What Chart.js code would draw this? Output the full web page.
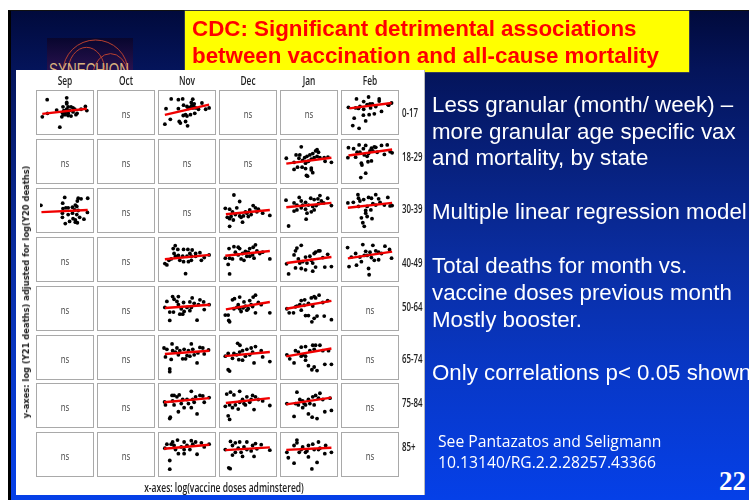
<!DOCTYPE html>
<html><head><meta charset="utf-8">
<script src="https://cdn.jsdelivr.net/npm/chart.js@4"></script>
<style>
html,body{margin:0;padding:0;width:749px;height:500px;overflow:hidden;background:#fff}
.abs{position:absolute;white-space:nowrap}
#slide{position:absolute;left:8px;top:10px;width:741px;height:490px;box-sizing:border-box;border-left:3px solid #000;border-top:1px solid #111;
background:linear-gradient(180deg,#010a3c 0%,#04145a 12%,#0a2da0 50%,#0838c8 75%,#0540e8 100%)}
#title{left:185px;top:11px;width:504px;height:61px;background:#ffff00;box-shadow:0 0 0 .5px #665;color:#f00;font:bold 22.35px/27px "Liberation Sans",Arial,sans-serif;padding:0;box-sizing:border-box;filter:blur(.25px)}
#title div{position:absolute;left:7px}
.txt{color:#fff;font:22.3px/24px "Liberation Sans",Arial,sans-serif;left:432px;filter:blur(.3px)}
.see{color:#fff;font:15.7px/20px "Open Sans","Noto Sans",sans-serif;left:438px;filter:blur(.2px)}
#white{left:16px;top:70px;width:408px;height:425px;background:#fff;box-shadow:1px 0 0 #bbb}
.panel{position:absolute;width:58px;height:45px;filter:blur(.35px)}
.panel canvas{position:absolute;left:0;top:0}
.panel .bd{position:absolute;inset:0;box-sizing:border-box;border:1.4px solid #a9a9a9}
.ns{position:absolute;left:0;right:0;top:0;bottom:0;text-align:center;font:11px/47px "Open Sans",sans-serif;color:#444;transform:scaleX(.72)}
.lab{font:600 11.6px/14px "Open Sans",sans-serif;color:#222;filter:blur(.3px)}
</style></head><body>
<div id="slide"></div>
<svg class="abs" style="left:47px;top:38px" width="86" height="34" viewBox="0 0 86 34">
<defs><linearGradient id="lg" x1="0" y1="0" x2="0" y2="1"><stop offset="0" stop-color="#08062e"/><stop offset="1" stop-color="#2a1250"/></linearGradient></defs>
<rect width="86" height="34" fill="url(#lg)"/>
<g fill="none" stroke="#b8402f" stroke-width="1"><path d="M16 34 A32.5 32 0 0 1 81 34"/><path d="M21 34 A18 24 0 0 1 58 34"/><path d="M46 34 A18 24 0 0 1 81 34"/></g>
<text x="2" y="38" font-family="Liberation Sans" font-size="19" textLength="80" lengthAdjust="spacingAndGlyphs" fill="#d9b27f">SYNECHION</text>
</svg>
<div class="abs" id="title"><div style="top:4px">CDC: Significant detrimental associations</div><div style="top:31px">between vaccination and all-cause mortality</div></div>
<div class="abs txt" style="top:93px">Less granular (month/ week) –</div>
<div class="abs txt" style="top:120px">more granular age specific vax</div>
<div class="abs txt" style="top:146px">and mortality, by state</div>
<div class="abs txt" style="top:200px">Multiple linear regression model</div>
<div class="abs txt" style="top:254px">Total deaths for month vs.</div>
<div class="abs txt" style="top:281px">vaccine doses previous month</div>
<div class="abs txt" style="top:308px">Mostly booster.</div>
<div class="abs txt" style="top:361px">Only correlations p&lt; 0.05 shown</div>
<div class="abs see" style="top:431px">See Pantazatos and Seligmann</div>
<div class="abs see" style="top:452px">10.13140/RG.2.2.28257.43366</div>
<div class="abs" style="left:719px;top:466px;color:#fff;font:bold 27px/30px 'Liberation Serif',serif">22</div>
<div class="abs" id="white"></div>
<div class="abs" style="left:26px;top:292px;transform:translate(-50%,-50%) rotate(-90deg);font:bold 8.35px/10px 'DejaVu Sans',sans-serif;color:#222;filter:blur(.25px)">y-axes: log (Y21 deaths) adjusted for log(Y20 deaths)</div>
<div class="abs lab" style="left:224px;top:481px;transform:translateX(-50%) scaleX(.71);font-size:12px">x-axes: log(vaccine doses adminstered)</div>
<div id="grid"></div>
<script>
const months = ["Sep","Oct","Nov","Dec","Jan","Feb"];
const ages = ["0-17","18-29","30-39","40-49","50-64","65-74","75-84","85+"];
const xRange = [0,174], yRange = [0,136];

const sep_0_17 = [[8,52],[25,115],[93,122],[93,105],[93,100],[80,89],[98,89],[108,89],[115,85],[58,77],[26,65],[69,14],[76,52],[81,60],[88,60],[98,57],[108,55],[115,70],[125,60],[129,65],[158,90],[163,75],[143,80],[83,75],[88,70],[103,75],[98,65],[78,67],[121,80],[93,80]];
const nov_0_17 = [[32,118],[57,115],[72,118],[107,117],[14,82],[10,25],[29,43],[60,35],[64,29],[82,35],[89,19],[57,82],[75,95],[87,90],[102,105],[112,100],[107,85],[117,85],[139,103],[152,80],[164,85],[74,57],[82,60],[87,55],[99,60],[114,65],[127,80],[97,87],[92,83],[104,95],[110,92]];
const feb_0_17 = [[12,87],[40,118],[82,125],[65,108],[119,118],[119,110],[162,103],[32,47],[27,20],[49,10],[72,37],[64,58],[84,60],[102,63],[127,72],[37,85],[52,90],[65,80],[77,97],[87,100],[95,100],[107,90],[149,97],[152,95],[89,85],[47,83]];
const jan_18_29 = [[8,80],[60,122],[42,92],[55,92],[35,65],[35,39],[47,47],[63,47],[78,17],[82,14],[75,42],[95,44],[100,27],[95,37],[52,80],[65,72],[72,82],[80,87],[90,92],[100,97],[110,107],[115,112],[120,102],[125,82],[140,82],[143,69],[153,84],[165,65],[105,82],[95,77],[85,69],[75,62],[115,87]];
const feb_18_29 = [[12,119],[10,82],[30,115],[49,129],[72,127],[64,115],[92,117],[102,122],[107,120],[127,127],[147,129],[157,104],[164,100],[37,84],[52,102],[67,92],[77,87],[57,62],[59,55],[80,67],[92,70],[72,25],[55,9],[87,107],[97,107],[112,102],[137,94],[42,102],[82,97]];
const sep_30_39 = [[3,87],[86,116],[79,95],[133,113],[143,111],[166,113],[130,103],[90,78],[98,78],[113,80],[123,88],[128,83],[78,43],[78,58],[88,20],[103,28],[123,25],[130,23],[115,38],[138,43],[153,36],[98,53],[113,58],[128,53],[165,61],[133,68],[121,70],[80,75],[123,33]];
const dec_30_39 = [[38,125],[58,101],[23,10],[8,76],[23,73],[48,78],[15,43],[23,38],[36,33],[68,25],[58,48],[71,48],[83,58],[93,70],[105,86],[113,78],[123,73],[138,58],[163,50],[98,53],[118,63],[78,63],[43,53],[33,63],[28,46],[88,46],[63,43]];
const jan_30_39 = [[7,106],[16,11],[53,116],[60,103],[35,96],[45,88],[65,88],[75,98],[93,113],[105,108],[118,111],[125,123],[152,113],[165,86],[35,66],[45,70],[60,78],[75,73],[80,58],[77,36],[95,63],[105,70],[112,86],[120,93],[138,96],[130,103],[100,83],[85,88]];
const feb_30_39 = [[10,96],[45,126],[47,113],[52,103],[82,116],[92,113],[107,126],[117,111],[149,116],[65,108],[29,98],[47,83],[72,68],[90,70],[72,58],[57,41],[77,46],[94,38],[62,23],[67,10],[157,85],[164,86],[137,88],[107,88],[97,93],[122,98],[77,83]];
const nov_40_49 = [[46,119],[39,108],[10,53],[17,48],[82,16],[42,90],[55,105],[75,105],[90,105],[105,103],[117,90],[132,93],[164,85],[24,65],[32,70],[47,80],[57,83],[75,60],[92,60],[102,65],[102,80],[117,80],[137,65],[147,75],[62,65],[87,80],[97,90],[72,80]];
const dec_40_49 = [[21,108],[38,115],[53,113],[58,108],[113,122],[105,113],[93,108],[78,98],[88,95],[8,73],[23,73],[33,70],[18,50],[23,15],[53,85],[63,70],[83,80],[103,85],[108,73],[138,95],[163,70],[73,65],[93,80],[118,100],[128,90],[43,95],[68,90]];
const jan_40_49 = [[60,120],[45,110],[40,100],[35,85],[9,52],[16,15],[40,37],[60,35],[75,30],[100,25],[110,40],[142,40],[165,42],[50,70],[65,60],[80,55],[95,65],[105,90],[120,100],[110,95],[125,100],[135,75],[152,87],[90,80],[75,77],[55,55],[100,55]];
const feb_40_49 = [[9,112],[62,123],[97,120],[139,117],[155,105],[72,98],[37,90],[52,77],[57,60],[14,42],[40,47],[82,35],[84,12],[77,83],[92,75],[107,100],[117,95],[102,65],[117,67],[162,73],[127,90],[67,83],[22,77],[87,95]];
const nov_50_64 = [[17,94],[37,112],[57,112],[42,102],[52,94],[105,107],[132,100],[145,92],[10,72],[27,55],[40,55],[27,24],[62,47],[77,57],[97,60],[122,25],[147,64],[164,82],[57,82],[75,90],[97,92],[112,87],[127,82],[67,67],[87,72],[102,72],[72,47]];
const dec_50_64 = [[8,44],[18,44],[20,24],[23,19],[58,110],[40,104],[33,100],[113,117],[105,110],[93,97],[73,92],[133,82],[163,52],[113,52],[88,67],[63,57],[53,82],[38,67],[78,77],[58,67],[98,82],[123,90],[70,70],[83,62],[48,72],[103,75]];
const jan_50_64 = [[10,67],[18,52],[33,52],[45,77],[60,97],[72,100],[95,107],[105,112],[122,117],[152,97],[165,27],[97,19],[140,40],[115,40],[105,32],[85,42],[75,42],[60,62],[70,80],[85,87],[100,77],[110,107],[135,90],[40,74],[55,82]];
const nov_65_74 = [[7,103],[17,98],[35,118],[102,118],[12,70],[32,61],[27,26],[27,16],[122,48],[132,105],[142,103],[162,96],[147,81],[37,93],[52,103],[62,93],[77,98],[92,93],[107,98],[57,78],[72,63],[82,63],[97,73],[112,78],[47,88],[87,75],[125,85]];
const dec_65_74 = [[51,120],[59,113],[18,23],[23,18],[8,73],[18,83],[38,83],[33,65],[55,60],[68,58],[108,48],[138,70],[163,53],[113,108],[98,103],[83,98],[68,93],[48,78],[78,73],[93,78],[133,93],[103,88],[58,88]];
const jan_65_74 = [[10,78],[35,48],[40,93],[60,106],[75,108],[100,113],[110,113],[125,113],[142,43],[165,43],[97,23],[115,20],[85,38],[105,33],[75,58],[75,73],[60,73],[50,88],[90,93],[105,98],[135,93],[155,93],[20,63],[65,78]];
const nov_75_84 = [[9,81],[12,70],[35,105],[42,105],[60,107],[102,120],[132,105],[142,103],[164,97],[27,20],[29,25],[57,45],[77,60],[102,60],[122,37],[147,80],[42,70],[67,75],[87,90],[107,90],[117,100],[37,85],[72,90],[52,100],[92,75],[112,80]];
const dec_75_84 = [[13,110],[26,117],[38,107],[58,120],[8,65],[23,70],[18,30],[23,17],[53,55],[108,53],[163,68],[113,100],[103,105],[83,100],[68,90],[43,70],[33,60],[78,70],[93,80],[123,90],[138,85],[58,80],[73,75],[98,90]];
const jan_75_84 = [[45,117],[10,75],[35,28],[55,90],[65,85],[85,37],[98,25],[115,20],[142,45],[165,50],[125,113],[110,105],[100,100],[85,90],[75,70],[65,60],[40,75],[50,70],[105,70],[90,75],[135,90],[160,95],[120,95],[70,75]];
const nov_85 = [[10,91],[27,46],[27,14],[37,114],[32,106],[54,121],[77,114],[102,119],[117,114],[137,111],[164,106],[47,86],[57,71],[77,71],[97,86],[122,69],[147,96],[17,106],[67,96],[87,101],[107,106],[42,101],[77,86]];
const dec_85 = [[8,86],[26,116],[43,111],[58,114],[83,114],[113,108],[133,104],[163,84],[20,19],[25,16],[33,66],[68,61],[108,61],[43,76],[63,76],[83,86],[98,81],[118,89],[33,101],[73,96],[103,101],[53,91]];
const jan_85 = [[10,76],[15,56],[35,36],[45,121],[45,111],[53,76],[75,76],[85,59],[97,15],[115,39],[142,71],[165,76],[120,114],[100,106],[85,101],[65,96],[35,101],[105,86],[125,91],[80,81],[145,101],[60,86],[120,86]];

/* significant panels: [age index, month index, points, fit line start, fit line end] */
const significant = [
 [0,0,sep_0_17,[8,63],[163,82]],[0,2,nov_0_17,[10,59],[164,97]],[0,5,feb_0_17,[15,83],[162,103]],
 [1,4,jan_18_29,[8,60],[165,82]],[1,5,feb_18_29,[12,90],[164,112]],
 [2,0,sep_30_39,[5,62],[166,70]],[2,3,dec_30_39,[10,54],[163,70]],[2,4,jan_30_39,[8,80],[165,96]],[2,5,feb_30_39,[10,78],[164,96]],
 [3,2,nov_40_49,[10,69],[167,85]],[3,3,dec_40_49,[8,82],[163,99]],[3,4,jan_40_49,[9,55],[165,77]],[3,5,feb_40_49,[10,72],[164,97]],
 [4,2,nov_50_64,[10,70],[167,82]],[4,3,dec_50_64,[10,65],[163,92]],[4,4,jan_50_64,[8,67],[165,96]],
 [5,2,nov_65_74,[10,81],[165,93]],[5,3,dec_65_74,[6,73],[163,88]],[5,4,jan_65_74,[8,72],[165,101]],
 [6,2,nov_75_84,[7,80],[165,95]],[6,3,dec_75_84,[10,77],[163,95]],[6,4,jan_75_84,[8,72],[165,97]],
 [7,2,nov_85,[7,89],[165,104]],[7,3,dec_85,[8,84],[163,94]],[7,4,jan_85,[8,85],[165,93]]
];

const colLeft = [36,97,158,219,280,341];
const rowTop = [90,139,188,237,286,335,383,432];
const ageLabelY = [113,157,209,263,307,359,403,447];
const grid = document.getElementById("grid");

months.forEach((m,c)=>{
  const d=document.createElement("div");d.className="abs lab";d.textContent=m;
  d.style.cssText=`left:${colLeft[c]+29}px;top:73.5px;transform:translateX(-50%) scaleX(.72)`;grid.appendChild(d);
});
ages.forEach((a,r)=>{
  const d=document.createElement("div");d.className="abs lab";d.textContent=a;
  d.style.cssText=`left:402px;top:${ageLabelY[r]-7}px;transform:scaleX(.68);transform-origin:0 50%`;grid.appendChild(d);
});
Chart.defaults.animation=false;
for(let r=0;r<ages.length;r++){
  for(let c=0;c<months.length;c++){
    const p=document.createElement("div");p.className="panel";
    p.style.left=colLeft[c]+"px";p.style.top=rowTop[r]+"px";
    const cv=document.createElement("canvas");cv.width=58;cv.height=45;p.appendChild(cv);
    const hit=significant.find(s=>s[0]===r&&s[1]===c);
    if(!hit){const n=document.createElement("div");n.className="ns";n.textContent="ns";p.appendChild(n);}
    const b=document.createElement("div");b.className="bd";p.appendChild(b);
    grid.appendChild(p);
    const datasets=hit?[
      {type:"line",data:[{x:hit[3][0],y:hit[3][1]},{x:hit[4][0],y:hit[4][1]}],borderColor:"#f00000",borderWidth:2.4,pointRadius:0,order:0},
      {type:"scatter",data:hit[2].map(q=>({x:q[0],y:q[1]})),backgroundColor:"#000",borderColor:"#000",pointRadius:1.9,pointBorderWidth:0,order:1}
    ]:[];
    new Chart(cv,{type:"scatter",data:{datasets},options:{responsive:false,maintainAspectRatio:false,animation:false,
      layout:{padding:0},plugins:{legend:{display:false},tooltip:{enabled:false},title:{display:false}},
      scales:{x:{type:"linear",display:false,min:xRange[0],max:xRange[1]},y:{type:"linear",display:false,min:yRange[0],max:yRange[1]}}}});
  }
}
</script>
</body></html>
